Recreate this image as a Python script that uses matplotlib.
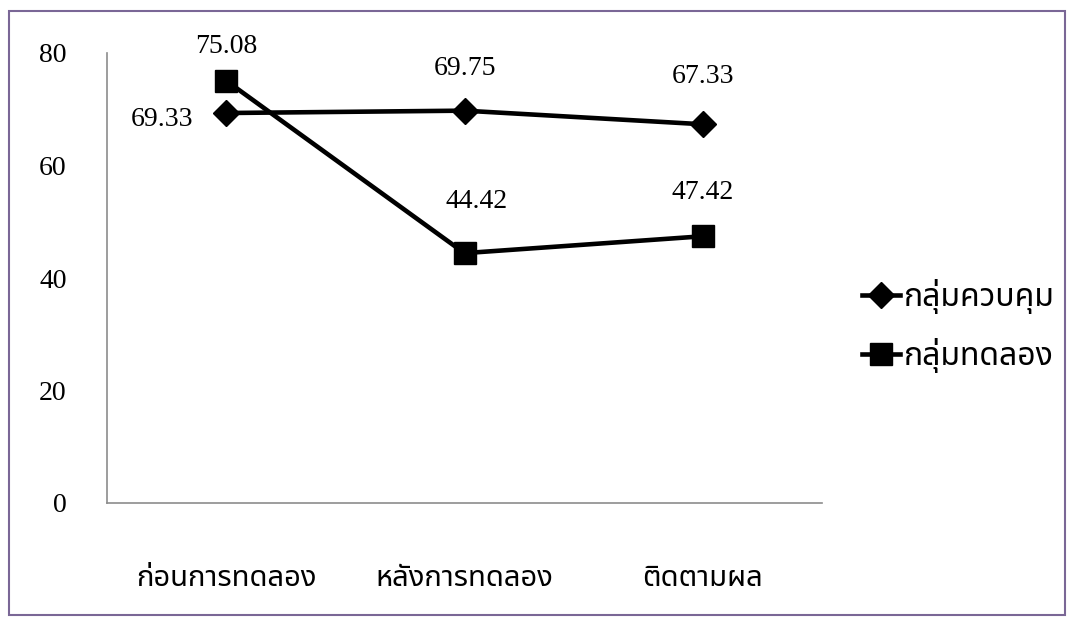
import matplotlib
matplotlib.use("Agg")
import matplotlib.pyplot as plt
from matplotlib import font_manager
from matplotlib.ft2font import FT2Font
from matplotlib.patches import Rectangle

categories = ["ก่อนการทดลอง", "หลังการทดลอง", "ติดตามผล"]
control = [69.33, 69.75, 67.33]
experiment = [75.08, 44.42, 47.42]
series_names = ["กลุ่มควบคุม", "กลุ่มทดลอง"]
yticks = [0, 20, 40, 60, 80]

# label offsets in pixels (dx, dy) relative to the marker
control_offsets = [None, (0, 42), (0, 48)]
experiment_offsets = [(0, 34), (12, 52), (0, 44)]

# find a font with Thai glyphs
thai_font = None
names = []
for f in font_manager.fontManager.ttflist:
    try:
        cm = FT2Font(f.fname).get_charmap()
        if 0x0E01 in cm and 0x0E48 in cm:
            names.append(f.name)
    except Exception:
        pass
pref = ["Noto Sans Thai", "Noto Sans Thai Looped", "Tlwg Typist", "Loma", "Garuda", "DejaVu Sans"]
for p in pref:
    if p in names:
        thai_font = p
        break
if thai_font is None and names:
    thai_font = names[0]
if thai_font is None:
    thai_font = "DejaVu Sans"

num_font = "Liberation Serif"
PX = 0.72  # points per pixel at dpi 100

fig = plt.figure(figsize=(10.73, 6.24), dpi=100)
ax = fig.add_axes([107/1073, 1-503/624, (822-107)/1073, (503-53)/624])

x = [0.5, 1.5, 2.5]
ax.plot(x, control, color="black", lw=3.3, marker="D", markersize=13, label=series_names[0])
ax.plot(x, experiment, color="black", lw=3.3, marker="s", markersize=15.5, label=series_names[1])

ax.set_xlim(0, 3)
ax.set_ylim(0, 80)
ax.set_yticks(yticks)
ax.set_yticklabels([str(v) for v in yticks], fontfamily=num_font, fontsize=20)
ax.set_xticks(x)
ax.set_xticklabels(categories, fontfamily=[thai_font, "DejaVu Sans"], fontsize=21)
ax.tick_params(axis="both", length=0)
ax.tick_params(axis="y", pad=29)
ax.tick_params(axis="x", pad=44)
for s in ["top", "right"]:
    ax.spines[s].set_visible(False)
for s in ["left", "bottom"]:
    ax.spines[s].set_color("#8c8c8c")
    ax.spines[s].set_linewidth(1.2)

# labels
for i, v in enumerate(control):
    off = control_offsets[i]
    if off is None:
        ax.annotate(f"{v:.2f}", (x[i], v), xytext=(-33*PX, -6*PX), textcoords="offset points",
                    ha="right", va="center", fontfamily=num_font, fontsize=20)
    else:
        ax.annotate(f"{v:.2f}", (x[i], v), xytext=(off[0]*PX, off[1]*PX), textcoords="offset points",
                    ha="center", va="center", fontfamily=num_font, fontsize=20)
for i, v in enumerate(experiment):
    off = experiment_offsets[i]
    ax.annotate(f"{v:.2f}", (x[i], v), xytext=(off[0]*PX, off[1]*PX), textcoords="offset points",
                ha="center", va="center", fontfamily=num_font, fontsize=20)

leg = fig.legend(loc="center left", bbox_to_anchor=(862/1073, 1-326/624), frameon=False,
                 prop={"family": [thai_font, "DejaVu Sans"], "size": 23},
                 handlelength=1.2, handletextpad=0.1, labelspacing=0.75,
                 borderpad=0, borderaxespad=0)

fig.patches.append(Rectangle((9/1073, 1-615/624), (1065-9)/1073, (615-11)/624,
                             transform=fig.transFigure, fill=False, edgecolor="#7a6796", lw=1.5))

fig.savefig("out.png", dpi=100)
